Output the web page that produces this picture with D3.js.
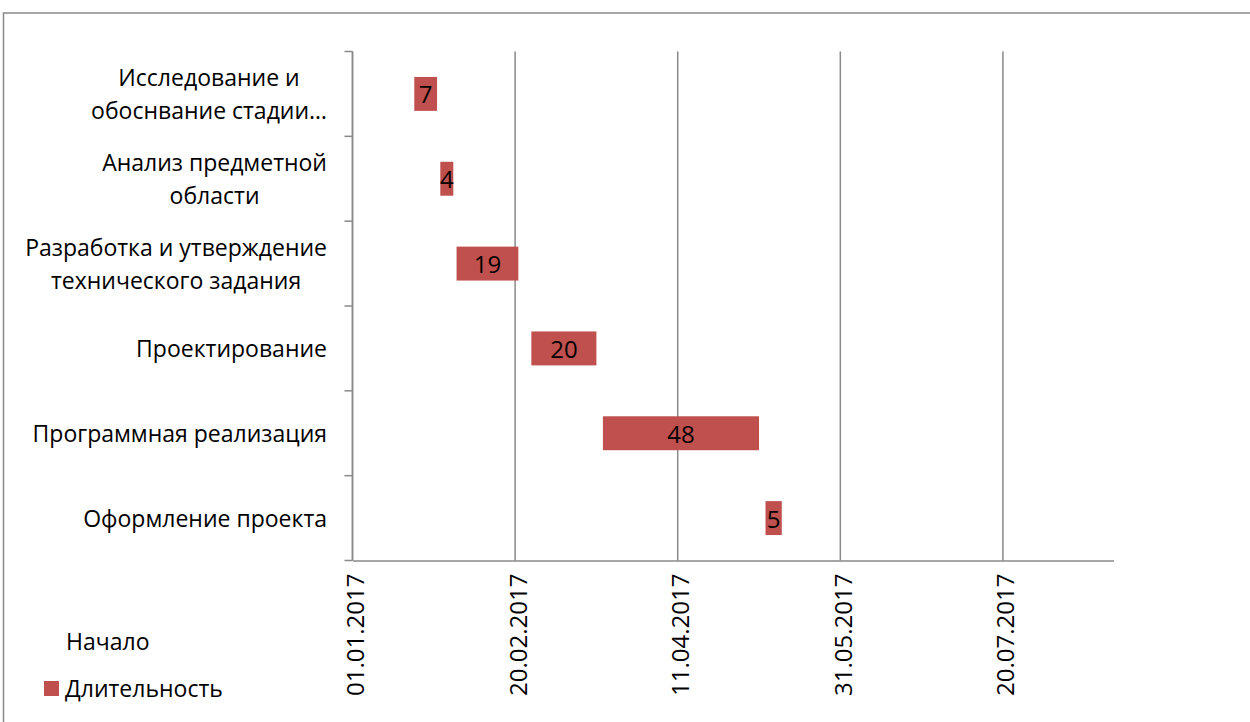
<!DOCTYPE html>
<html>
<head>
<meta charset="utf-8">
<script src="https://cdn.jsdelivr.net/npm/d3@7"></script>
<style>
  html, body { margin: 0; padding: 0; background: #fff; }
  svg { display: block; }
  text { font-family: "Open Sans", "Noto Sans", sans-serif; fill: #000; }
</style>
</head>
<body>
<svg id="chart" width="1250" height="722"></svg>
<script>
// Project schedule: tasks, start dates and durations (days)
const categories = [
  "Исследование и\nобоснвание стадии…",
  "Анализ предметной\nобласти",
  "Разработка и утверждение\nтехнического задания",
  "Проектирование",
  "Программная реализация",
  "Оформление проекта"
];
const startDates = ["20.01.2017", "28.01.2017", "02.02.2017", "25.02.2017", "19.03.2017", "08.05.2017"];
const durations = [7, 4, 19, 20, 48, 5];
const tickLabels = ["01.01.2017", "20.02.2017", "11.04.2017", "31.05.2017", "20.07.2017"];
const axisRange = ["01.01.2017", "23.08.2017"];
const legendLabels = ["Начало", "Длительность"];

const parse = d3.utcParse("%d.%m.%Y");
const fmt = d3.utcFormat("%d.%m.%Y");
const DAY = 24 * 3600 * 1000;

const rows = categories.map((c, i) => {
  const s = parse(startDates[i]);
  return { cat: c, start: s, end: new Date(s.getTime() + durations[i] * DAY), dur: durations[i] };
});

const svg = d3.select("#chart");
const gray = "#898989";
const barColor = "#C0504D";
const fontSize = 24;
const labelFont = 23;

const plotLeft = 352.5, plotRight = 1113.5, plotTop = 51.5, plotBottom = 560.5;

const x = d3.scaleUtc().domain(axisRange.map(parse)).range([plotLeft, plotRight]);
const y = d3.scaleBand().domain(categories).range([plotTop, plotBottom])
  .paddingInner(0.6).paddingOuter(0.3);

// chart frame
svg.append("rect")
  .attr("x", 3.5).attr("y", 13)
  .attr("width", 1400).attr("height", 900)
  .attr("fill", "none").attr("stroke", gray).attr("stroke-width", 1.5);

// vertical gridlines
const tickDates = tickLabels.map(parse);
svg.append("g").selectAll("line").data(tickDates).join("line")
  .attr("x1", d => x(d)).attr("x2", d => x(d))
  .attr("y1", plotTop).attr("y2", plotBottom)
  .attr("stroke", gray).attr("stroke-width", 1.5);

// x axis (date labels rotated)
const xAxis = svg.append("g")
  .attr("transform", `translate(0,${plotBottom})`)
  .call(d3.axisBottom(x).tickValues(tickDates).tickFormat(fmt).tickSize(0).tickSizeOuter(0));
xAxis.select(".domain").attr("stroke", gray).attr("stroke-width", 1.5);
xAxis.selectAll(".tick text")
  .attr("font-size", fontSize)
  .attr("font-family", "'Open Sans', sans-serif")
  .attr("fill", "#000")
  .attr("text-anchor", "end")
  .attr("dy", null)
  .attr("y", 0)
  .attr("dominant-baseline", "central")
  .attr("transform", "translate(1.5,13) rotate(-90)");

// y axis with ticks at category boundaries
const yAxisG = svg.append("g");
yAxisG.append("line")
  .attr("x1", plotLeft).attr("x2", plotLeft).attr("y1", plotTop).attr("y2", plotBottom)
  .attr("stroke", gray).attr("stroke-width", 1.5);
const bounds = d3.range(categories.length + 1).map(i => plotTop + i * y.step());
yAxisG.selectAll("line.tk").data(bounds).join("line").attr("class", "tk")
  .attr("x1", plotLeft - 8).attr("x2", plotLeft)
  .attr("y1", d => d).attr("y2", d => d)
  .attr("stroke", gray).attr("stroke-width", 1.5);

// category labels: block right-aligned, lines centred within the block
const lineH = 33;
const labelRight = 327;
const labG = svg.append("g");
categories.forEach(c => {
  const lines = c.split("\n");
  const cy = y(c) + y.bandwidth() / 2;
  const t = labG.append("text")
    .attr("text-anchor", "middle")
    .attr("font-size", labelFont);
  const spans = lines.map((ln, j) => t.append("tspan")
    .attr("y", cy + (j - (lines.length - 1) / 2) * lineH)
    .attr("dominant-baseline", "central")
    .text(ln));
  const maxW = d3.max(spans, s => s.node().getComputedTextLength());
  spans.forEach(s => s.attr("x", labelRight - maxW / 2));
});

// duration bars (start offset is an invisible series)
svg.append("g").selectAll("rect").data(rows).join("rect")
  .attr("x", d => x(d.start))
  .attr("y", d => y(d.cat))
  .attr("width", d => x(d.end) - x(d.start))
  .attr("height", y.bandwidth())
  .attr("fill", barColor);

// value labels
svg.append("g").selectAll("text").data(rows).join("text")
  .attr("x", d => (x(d.start) + x(d.end)) / 2)
  .attr("y", d => y(d.cat) + y.bandwidth() / 2)
  .attr("text-anchor", "middle")
  .attr("dominant-baseline", "central")
  .attr("font-size", fontSize)
  .text(d => d.dur);

// legend
const lg = svg.append("g");
lg.append("text").attr("x", 66).attr("y", 650).attr("font-size", labelFont).text(legendLabels[0]);
lg.append("rect").attr("x", 44).attr("y", 681).attr("width", 15).attr("height", 15).attr("fill", barColor);
lg.append("text").attr("x", 65).attr("y", 697).attr("font-size", labelFont).text(legendLabels[1]);
</script>
</body>
</html>
